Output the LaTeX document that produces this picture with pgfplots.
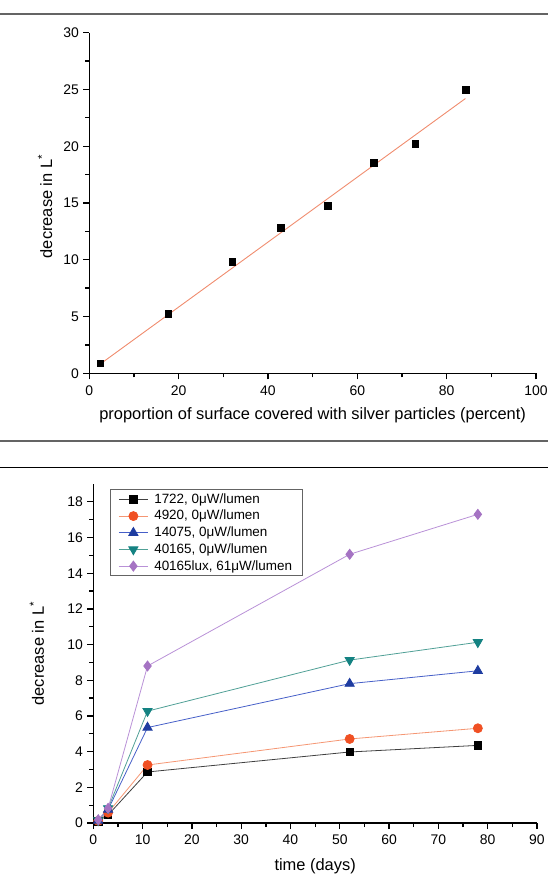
\documentclass[border=0pt]{standalone}
\usepackage{pgfplots}
\pgfplotsset{compat=1.18}
\usepackage{fontspec}
\setmainfont{Liberation Sans}
\definecolor{rulegray}{RGB}{100,100,100}
\definecolor{fitc}{RGB}{240,140,110}
\definecolor{corange}{RGB}{240,80,35}
\definecolor{corangel}{RGB}{245,150,115}
\definecolor{cblue}{RGB}{30,60,160}
\definecolor{cbluel}{RGB}{70,95,200}
\definecolor{cteal}{RGB}{20,130,130}
\definecolor{ctealel}{RGB}{80,160,150}
\definecolor{cpurple}{RGB}{165,115,195}
\definecolor{cpurplel}{RGB}{185,145,215}
\pgfplotsset{
  myaxis/.style={
    scale only axis,
    axis lines*=left,
    tick align=outside,
    major tick length=6bp,
    minor tick length=4bp,
    axis line style={line width=1.3bp},
    major tick style={line width=1.3bp,black},
    minor tick style={line width=1.3bp,black},
    /pgf/number format/assume math mode=true,
    tick label style={font=\fontsize{14}{16}\selectfont},
    xticklabel style={yshift=-1.5bp},
    label style={font=\fontsize{16.5}{19}\selectfont},
    anchor=south west,
  }
}
\begin{document}
\fontsize{13}{15}\selectfont
\begin{tikzpicture}
\path[use as bounding box] (0,0) rectangle (548bp,879bp);
\draw[line width=2bp, rulegray] (0,865bp) -- (548bp,865bp);
\draw[line width=2bp, rulegray] (0,438.3bp) -- (548bp,438.3bp);
\draw[line width=1.5bp, black] (0,411.7bp) -- (548bp,411.7bp);

\begin{axis}[myaxis,
  at={(89.3bp,505.7bp)},
  width=446.7bp, height=340.6bp,
  xmin=0, xmax=100, ymin=0, ymax=30,
  xtick={0,20,...,100}, ytick={0,5,...,30},
  minor x tick num=1, minor y tick num=1,
  xlabel={proportion of surface covered with silver particles (percent)},
  ylabel={decrease in L\textsuperscript{*}},
  xlabel style={at={(axis description cs:0.5,-0.122)}, anchor=center},
  ylabel style={at={(axis description cs:-0.099,0.49)}, anchor=center, rotate=0},
]
\addplot[fitc, line width=0.9bp] coordinates {(2.4,0.8) (84.2,24.2)};
\addplot[only marks, mark=square*, mark size=3.3bp, black] coordinates {
(2.4,0.88)(17.7,5.23)(32.0,9.81)(42.9,12.83)(53.4,14.74)(63.6,18.53)(73.0,20.23)(84.2,24.96)};
\end{axis}

\begin{axis}[myaxis,
  at={(93.3bp,56bp)},
  width=443.7bp, height=339bp,
  xmin=0, xmax=90, ymin=0, ymax=19,
  xtick={0,10,...,90}, ytick={0,2,...,18},
  minor x tick num=1, minor y tick num=1,
  xlabel={time (days)},
  ylabel={decrease in L\textsuperscript{*}},
  xlabel style={at={(axis description cs:0.5,-0.127)}, anchor=center},
  ylabel style={at={(axis description cs:-0.127,0.5)}, anchor=center, rotate=0},
  legend style={at={(axis description cs:0.0376,0.985)}, anchor=north west,
    draw=rulegray, line width=1bp, font=\fontsize{13.5}{16}\selectfont,
    row sep=1bp, inner xsep=8bp, inner ysep=2bp, cells={anchor=west}},
  legend image code/.code={\draw[mark repeat=2,mark phase=2] plot coordinates {(0bp,0bp) (14.5bp,0bp) (29bp,0bp)};\path (33bp,0bp);},
]
\addplot[darkgray, line width=0.8bp, mark=square*, mark size=3.7bp, mark options={fill=black,draw=black}] coordinates {
(1,0.10)(3,0.45)(11,2.86)(52,3.98)(78,4.35)};
\addlegendentry{1722, 0μW/lumen}
\addplot[corangel, line width=0.8bp, mark=*, mark size=4.5bp, mark options={fill=corange,draw=corange}] coordinates {
(1,0.12)(3,0.58)(11,3.25)(52,4.71)(78,5.31)};
\addlegendentry{4920, 0μW/lumen}
\addplot[cbluel, line width=0.8bp, mark=triangle*, mark size=5.3bp, mark options={fill=cblue,draw=cblue}] coordinates {
(1,0.14)(3,0.75)(11,5.35)(52,7.81)(78,8.53)};
\addlegendentry{14075, 0μW/lumen}
\addplot[ctealel, line width=0.8bp, mark=triangle*, mark size=5.3bp, mark options={fill=cteal,draw=cteal,rotate=180}] coordinates {
(1,0.15)(3,0.82)(11,6.27)(52,9.13)(78,10.13)};
\addlegendentry{40165, 0μW/lumen}
\addplot[cpurplel, line width=0.8bp, mark=diamond*, mark size=5bp, mark options={fill=cpurple,draw=cpurple}] coordinates {
(1,0.18)(3,0.82)(11,8.80)(52,15.06)(78,17.30)};
\addlegendentry{40165lux, 61μW/lumen}
\end{axis}
\end{tikzpicture}
\end{document}
